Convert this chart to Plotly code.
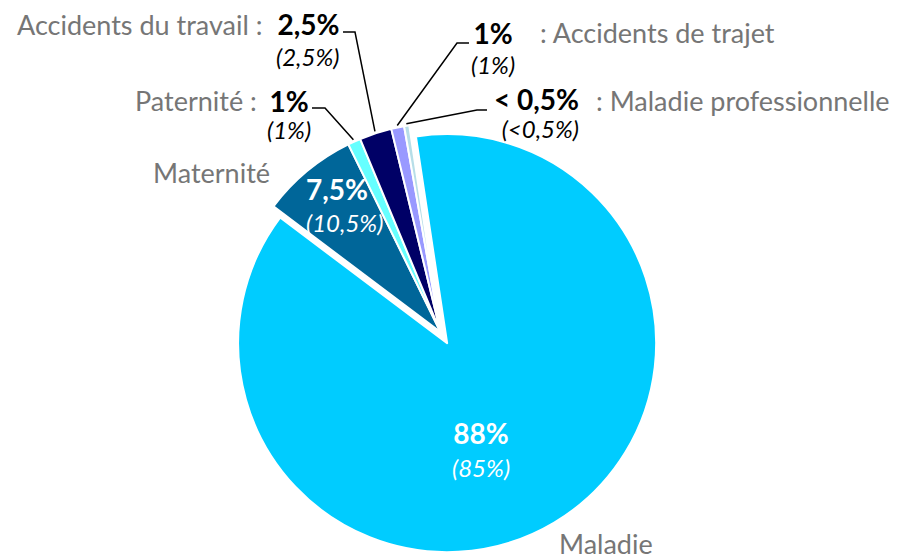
import math
import plotly.graph_objects as go

# Répartition des indemnités journalières par risque
categories = ["Maladie", "Maternité", "Paternité", "Accidents du travail",
              "Accidents de trajet", "Maladie professionnelle"]
values = [88, 7.5, 1, 2.5, 1, 0.4]
value_labels = ["88%", "7,5%", "1%", "2,5%", "1%", "< 0,5%"]
previous_labels = ["(85%)", "(10,5%)", "(1%)", "(2,5%)", "(1%)", "(<0,5%)"]
colors = ["#00CCFF", "#006699", "#66FFFF", "#000066", "#9999FF", "#B7DEE8"]
pulls = [0.062, 0, 0, 0, 0, 0]

W, H = 899, 560
ROTATION = -8.6
CX, CY = 440.5, 332.0      # pie centre, pixels
R = 209.0                  # pie radius, pixels
BOX = 2 * R * (1 + max(pulls))

GRAY = "#767676"
FONT = "Lato"
NAME = 27
VAL = 28
PREV = 24


def px(x):
    return x / W


def py(y):
    return 1 - y / H


# angle (deg, clockwise from 12 o'clock) at the middle of each slice
total = sum(values)
mids = []
acc = ROTATION
for v in values:
    span = 360 * v / total
    mids.append(acc + span / 2)
    acc += span


def rim_point(i, extra=2.0):
    a = math.radians(mids[i])
    r = R + extra
    return CX + r * math.sin(a), CY - r * math.cos(a)


fig = go.Figure(go.Pie(
    labels=categories,
    values=values,
    sort=False,
    direction="clockwise",
    rotation=ROTATION,
    pull=pulls,
    marker=dict(colors=colors, line=dict(color="white", width=2)),
    textinfo="none",
    hoverinfo="label+percent",
    showlegend=False,
    domain=dict(x=[px(CX - BOX / 2), px(CX + BOX / 2)],
                y=[py(CY + BOX / 2), py(CY - BOX / 2)]),
))

annotations = []


def add_name(x, y, text, anchor):
    annotations.append(dict(
        x=px(x), y=py(y), xref="paper", yref="paper", text=text,
        showarrow=False, xanchor=anchor, yanchor="middle",
        font=dict(family=FONT, size=NAME, color=GRAY)))


def add_pair(i, x, y1, y2, color, align):
    """Bold share on the first line, previous share in italics below."""
    text = ("<span style='font-size:{}px'><b>{}</b></span><br>"
            "<span style='font-size:{}px'><i>{}</i></span>").format(
        VAL, value_labels[i], PREV, previous_labels[i])
    base = (y2 - y1) / 1.3
    annotations.append(dict(
        x=px(x), y=py((y1 + y2) / 2), xref="paper", yref="paper", text=text,
        showarrow=False, xanchor=align, yanchor="middle", align=align,
        font=dict(family=FONT, size=base, color=color)))


# Maladie
add_pair(0, 481, 432, 465, "white", "center")
add_name(655, 543, categories[0], "right")

# Maternité
add_name(272, 172, categories[1], "right")
add_pair(1, 304, 188, 220, "white", "left")

# Paternité
add_name(259, 100, categories[2] + " :", "right")
add_pair(2, 289, 100, 127, "black", "center")

# Accidents du travail
add_name(265, 25, categories[3] + " :", "right")
add_pair(3, 341, 24, 55, "black", "right")

# Accidents de trajet
add_pair(4, 493, 32, 62, "black", "center")
add_name(538, 32, ": " + categories[4], "left")

# Maladie professionnelle
add_pair(5, 581, 99, 127, "black", "right")
add_name(594, 100, ": " + categories[5], "left")

# leader lines: label elbow -> slice rim
leaders = {
    2: [(312, 108), (325, 108)],
    3: [(343, 32), (355, 32)],
    4: [(469, 43), (457, 43)],
    5: [(487, 110), (477, 110)],
}
shapes = []
for i, (p0, p1) in leaders.items():
    p2 = rim_point(i)
    path = "M {:.5f},{:.5f} L {:.5f},{:.5f} L {:.5f},{:.5f}".format(
        px(p0[0]), py(p0[1]), px(p1[0]), py(p1[1]), px(p2[0]), py(p2[1]))
    shapes.append(dict(type="path", path=path, xref="paper", yref="paper",
                       line=dict(color="black", width=1.5)))

fig.update_layout(
    width=W, height=H,
    margin=dict(l=0, r=0, t=0, b=0),
    paper_bgcolor="white",
    plot_bgcolor="white",
    annotations=annotations,
    shapes=shapes,
)

fig.write_html("out.html")
